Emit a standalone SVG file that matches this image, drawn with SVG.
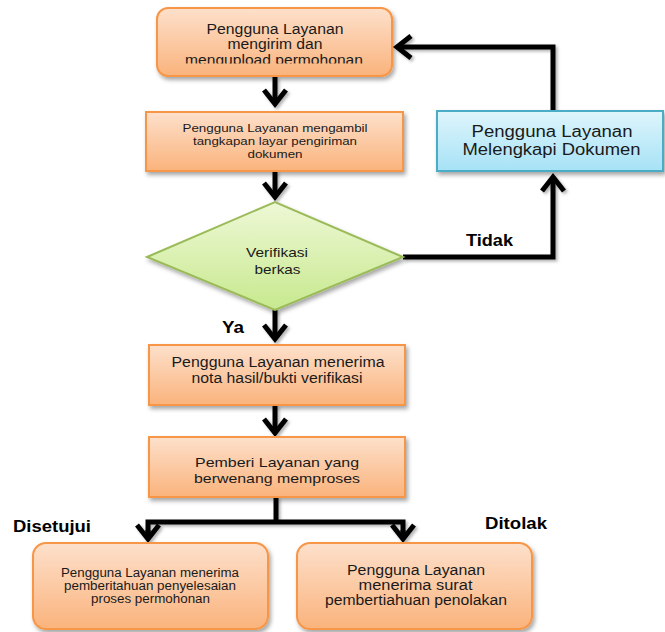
<svg xmlns="http://www.w3.org/2000/svg" width="665" height="632" viewBox="0 0 665 632">
  <defs>
    <linearGradient id="gOrange" x1="0" y1="0" x2="0" y2="1">
      <stop offset="0" stop-color="#fde0cb"/>
      <stop offset="1" stop-color="#fab37c"/>
    </linearGradient>
    <linearGradient id="gBlue" x1="0" y1="0" x2="0" y2="1">
      <stop offset="0" stop-color="#dff5fc"/>
      <stop offset="1" stop-color="#a6e2f6"/>
    </linearGradient>
    <linearGradient id="gGreen" x1="0" y1="0" x2="0" y2="1">
      <stop offset="0" stop-color="#eef8d6"/>
      <stop offset="1" stop-color="#c7e98e"/>
    </linearGradient>
    <filter id="shadow" x="-10%" y="-10%" width="125%" height="135%">
      <feDropShadow dx="2" dy="3" stdDeviation="2" flood-color="#000" flood-opacity="0.35"/>
    </filter>
    <filter id="lineShadow" x="-10%" y="-10%" width="125%" height="130%">
      <feDropShadow dx="2" dy="2" stdDeviation="1.5" flood-color="#000" flood-opacity="0.3"/>
    </filter>
    <marker id="chev" markerUnits="userSpaceOnUse" markerWidth="40" markerHeight="40" viewBox="-20 -20 40 40" refX="0" refY="0" orient="auto" overflow="visible">
      <path d="M-14,-11 L0,0 L-14,11" fill="none" stroke="#000" stroke-width="5" stroke-linejoin="miter"/>
    </marker>
    <clipPath id="clipBox1">
      <rect x="157" y="8" width="235" height="55.5"/>
    </clipPath>
  </defs>
  <style>
    .proc { fill: url(#gOrange); stroke: #f79646; stroke-width: 2; filter: url(#shadow); }
    .info { fill: url(#gBlue); stroke: #4bacc6; stroke-width: 2; filter: url(#shadow); }
    .dec { fill: url(#gGreen); stroke: #9bbb59; stroke-width: 2; filter: url(#shadow); }
    text { font-family: "Liberation Sans", Arial, sans-serif; fill: #1a1a1a; text-anchor: middle; }
    .lbl { font-weight: bold; fill: #000; font-size: 16.5px; text-anchor: start; }
    .conn { fill: none; stroke: #000; stroke-width: 5; stroke-linejoin: miter; }
  </style>

  <!-- connectors -->
  <g id="connectors" filter="url(#lineShadow)">
    <path class="conn" d="M275,77 V104" marker-end="url(#chev)"/>
    <path class="conn" d="M275,171 V197" marker-end="url(#chev)"/>
    <path class="conn" d="M403,257 H553 V177" marker-end="url(#chev)"/>
    <path class="conn" d="M553,111 V47 H397" marker-end="url(#chev)"/>
    <path class="conn" d="M275,310 V339" marker-end="url(#chev)"/>
    <path class="conn" d="M275,405 V433" marker-end="url(#chev)"/>
    <path class="conn" d="M276,497 V522"/>
    <path class="conn" d="M148,539 V522 H403 V539"/>
    <path class="conn" d="M148,530 V539" marker-end="url(#chev)"/>
    <path class="conn" d="M403,530 V539" marker-end="url(#chev)"/>
  </g>

  <!-- start: upload request -->
  <g id="n-upload">
    <rect class="proc" x="157" y="8" width="235" height="68" rx="11"/>
    <g clip-path="url(#clipBox1)" font-size="14">
      <text x="275" y="34" textLength="137" lengthAdjust="spacingAndGlyphs">Pengguna Layanan</text>
      <text x="275" y="49" textLength="95" lengthAdjust="spacingAndGlyphs">mengirim dan</text>
      <text x="274" y="64.5" textLength="178" lengthAdjust="spacingAndGlyphs">mengupload permohonan</text>
    </g>
  </g>

  <!-- screenshot of submission -->
  <g id="n-screenshot" font-size="11.5">
    <rect class="proc" x="146" y="112" width="257" height="59"/>
    <text x="275" y="132" textLength="185" lengthAdjust="spacingAndGlyphs">Pengguna Layanan mengambil</text>
    <text x="275" y="145" textLength="164" lengthAdjust="spacingAndGlyphs">tangkapan layar pengiriman</text>
    <text x="275" y="157.5" textLength="55" lengthAdjust="spacingAndGlyphs">dokumen</text>
  </g>

  <!-- decision -->
  <g id="n-verify" font-size="13.5">
    <polygon class="dec" points="147,257 275,202 403,257 275,310"/>
    <text x="277" y="257" textLength="62" lengthAdjust="spacingAndGlyphs">Verifikasi</text>
    <text x="277.5" y="274" textLength="46" lengthAdjust="spacingAndGlyphs">berkas</text>
  </g>

  <!-- complete documents -->
  <g id="n-complete" font-size="16">
    <rect class="info" x="437" y="111" width="226" height="60"/>
    <text x="552" y="137" textLength="161" lengthAdjust="spacingAndGlyphs">Pengguna Layanan</text>
    <text x="551.5" y="155" textLength="178" lengthAdjust="spacingAndGlyphs">Melengkapi Dokumen</text>
  </g>

  <!-- verification receipt -->
  <g id="n-receipt" font-size="14">
    <rect class="proc" x="149" y="345" width="256" height="60"/>
    <text x="278" y="367" textLength="213" lengthAdjust="spacingAndGlyphs">Pengguna Layanan menerima</text>
    <text x="277" y="383" textLength="171" lengthAdjust="spacingAndGlyphs">nota hasil/bukti verifikasi</text>
  </g>

  <!-- processing -->
  <g id="n-process" font-size="13.5">
    <rect class="proc" x="149" y="437" width="256" height="60"/>
    <text x="277" y="467" textLength="164" lengthAdjust="spacingAndGlyphs">Pemberi Layanan yang</text>
    <text x="277" y="482.5" textLength="166" lengthAdjust="spacingAndGlyphs">berwenang memproses</text>
  </g>

  <!-- approved -->
  <g id="n-approved" font-size="12">
    <rect class="proc" x="33" y="543" width="235" height="86" rx="13"/>
    <text x="150" y="577" textLength="178" lengthAdjust="spacingAndGlyphs">Pengguna Layanan menerima</text>
    <text x="150" y="590" textLength="172" lengthAdjust="spacingAndGlyphs">pemberitahuan penyelesaian</text>
    <text x="150.5" y="603" textLength="119" lengthAdjust="spacingAndGlyphs">proses permohonan</text>
  </g>

  <!-- rejected -->
  <g id="n-rejected" font-size="14">
    <rect class="proc" x="297" y="543" width="235" height="86" rx="13"/>
    <text x="416" y="574.5" textLength="138" lengthAdjust="spacingAndGlyphs">Pengguna Layanan</text>
    <text x="415.5" y="589.5" textLength="114" lengthAdjust="spacingAndGlyphs">menerima  surat</text>
    <text x="416" y="604.5" textLength="182" lengthAdjust="spacingAndGlyphs">pembertiahuan penolakan</text>
  </g>

  <!-- branch labels -->
  <g id="labels">
    <text class="lbl" x="466" y="246" textLength="47" lengthAdjust="spacingAndGlyphs">Tidak</text>
    <text class="lbl" x="222" y="333" textLength="22" lengthAdjust="spacingAndGlyphs">Ya</text>
    <text class="lbl" x="13" y="532" textLength="78" lengthAdjust="spacingAndGlyphs">Disetujui</text>
    <text class="lbl" x="485" y="529" textLength="62" lengthAdjust="spacingAndGlyphs">Ditolak</text>
  </g>
</svg>
